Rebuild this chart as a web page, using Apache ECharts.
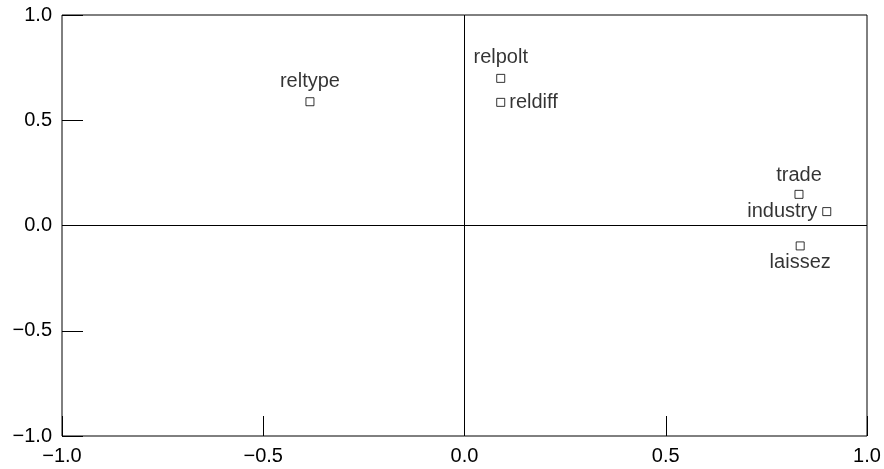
<!DOCTYPE html>
<html>
<head>
<meta charset="utf-8">
<script src="https://cdn.jsdelivr.net/npm/echarts@6/dist/echarts.min.js"></script>
<style>
  html, body { margin: 0; padding: 0; background: #fff; }
  #chart { width: 884px; height: 469px; }
</style>
</head>
<body>
<div id="chart"></div>
<script>
// variable coordinates
const names = ['reltype', 'relpolt', 'reldiff', 'trade', 'industry', 'laissez'];
const xs = [-0.384, 0.090, 0.090, 0.831, 0.900, 0.834];
const ys = [0.588, 0.699, 0.585, 0.148, 0.066, -0.097];
const xTicks = [-1.0, -0.5, 0.0, 0.5, 1.0];
const yTicks = [-1.0, -0.5, 0.0, 0.5, 1.0];

const chart = echarts.init(document.getElementById('chart'), null, { renderer: 'canvas' });

// where each label sits relative to its square
const labelPlace = {
  reltype: ['top', 6],
  relpolt: ['top', 6],
  reldiff: ['right', 4],
  trade: ['top', 4],
  industry: ['left', 5],
  laissez: ['bottom', 2]
};

const fmt = v => v.toFixed(1).replace('-', '\u2212');
const font = 'Liberation Sans, Arial, sans-serif';

const points = names.map((n, i) => ({
  name: n,
  value: [xs[i], ys[i]],
  label: { position: labelPlace[n][0], distance: labelPlace[n][1] }
}));

const option = {
  animation: false,
  grid: {
    left: 62, top: 15, right: 17, bottom: 33,
    show: true, borderColor: '#000', borderWidth: 1, backgroundColor: 'transparent'
  },
  xAxis: {
    type: 'value',
    min: xTicks[0], max: xTicks[xTicks.length - 1], interval: 0.5,
    axisLine: { show: false, onZero: false },
    axisTick: { show: true, inside: true, length: 20, lineStyle: { color: '#000' } },
    splitLine: { show: false },
    axisLabel: { color: '#000', fontSize: 20, fontFamily: font, margin: 10, formatter: fmt }
  },
  yAxis: {
    type: 'value',
    min: yTicks[0], max: yTicks[yTicks.length - 1], interval: 0.5,
    axisLine: { show: false, onZero: false },
    axisTick: { show: true, inside: true, length: 21, lineStyle: { color: '#000' } },
    splitLine: { show: false },
    axisLabel: { color: '#000', fontSize: 20, fontFamily: font, margin: 10, formatter: fmt }
  },
  series: [
    {
      type: 'scatter',
      symbol: 'rect',
      symbolSize: 8,
      itemStyle: { color: '#fff', borderColor: '#000', borderWidth: 1 },
      label: {
        show: true,
        formatter: p => p.name,
        color: '#000',
        fontSize: 20,
        fontFamily: font
      },
      data: points,
      markLine: {
        silent: true,
        symbol: 'none',
        label: { show: false },
        lineStyle: { color: '#000', width: 1, type: 'solid' },
        data: [{ xAxis: 0 }, { yAxis: 0 }]
      }
    }
  ]
};

chart.setOption(option);
</script>
</body>
</html>
